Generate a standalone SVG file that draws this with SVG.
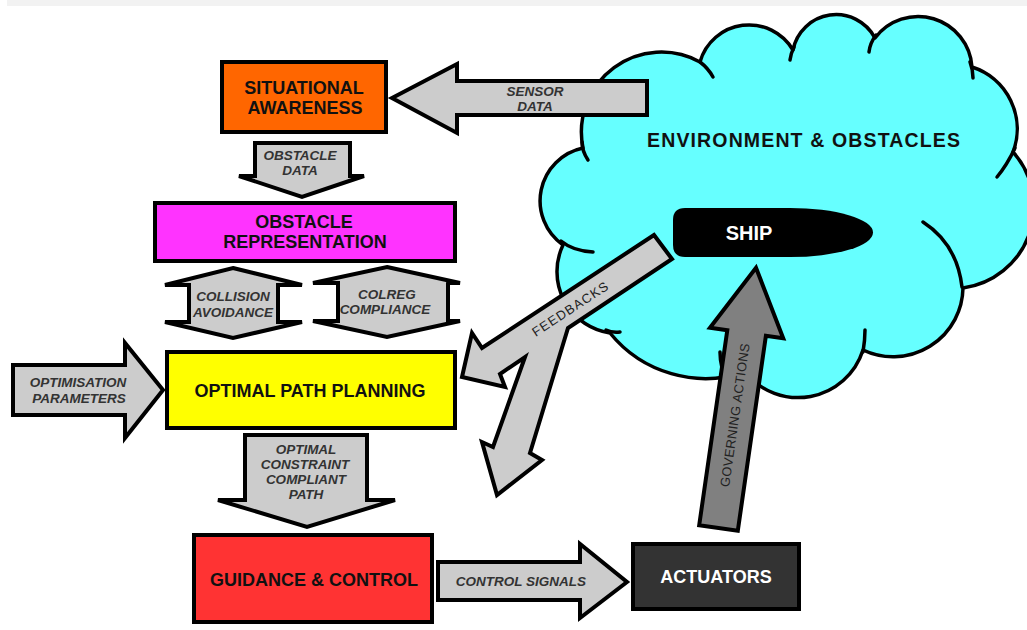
<svg xmlns="http://www.w3.org/2000/svg" width="1027" height="630" viewBox="0 0 1027 630">
<style>
.box{stroke:#000;stroke-width:4;stroke-linejoin:miter}
.arr{fill:#cccccc;stroke:#000;stroke-width:4;stroke-linejoin:miter}
.nt{font-family:"Liberation Sans",Arial,sans-serif;font-weight:bold;font-size:18px;fill:#111;text-anchor:middle}
.at{font-family:"Liberation Sans",Arial,sans-serif;font-weight:bold;font-style:italic;font-size:13.5px;fill:#333;text-anchor:middle}
.rt{font-family:"Liberation Sans",Arial,sans-serif;font-size:13px;fill:#222;text-anchor:middle}
.stub{fill:none;stroke:#000;stroke-width:3.5;stroke-linecap:round}
</style>
<rect x="0" y="0" width="1027" height="630" fill="#ffffff"/>
<rect x="7" y="0" width="1020" height="6" fill="#f2f2f2"/>

<g id="environment">
<path d="M 563 245 A 54 54 0 0 1 583 148 A 80 80 0 0 1 700 62 A 51 51 0 0 1 793 50 A 44 44 0 0 1 875 38 A 54 54 0 0 1 972 67 A 65 65 0 0 1 1013 152 A 82 82 0 0 1 963 288 A 70 70 0 0 1 863 350 A 68 68 0 0 1 745 372 A 123 123 0 0 1 610 333 A 62 62 0 0 1 563 245 Z" fill="#66ffff" stroke="#000" stroke-width="3.5" stroke-linejoin="round"/>
<path class="stub" d="M 561 241 Q 573 251 593 252"/>
<path class="stub" d="M 582 142 Q 582 151 588 160"/>
<path class="stub" d="M 700 62 Q 708 68 713 77"/>
<path class="stub" d="M 794 47 Q 791 53 790 60"/>
<path class="stub" d="M 876 35 Q 870 43 869 52"/>
<path class="stub" d="M 970 62 Q 973 70 973 78"/>
<path class="stub" d="M 1015 148 Q 1007 165 997 177"/>
<path class="stub" d="M 962 287 Q 957 244 923 222"/>
<path class="stub" d="M 863 352 Q 865 340 865 330"/>
<path class="stub" d="M 722 368 Q 720 360 720 352"/>
<path class="stub" d="M 606 330 Q 612 333 620 332"/>
<text class="nt" x="803.5" y="147" font-size="19.5" textLength="313" lengthAdjust="spacing" style="font-size:19.5px">ENVIRONMENT &amp; OBSTACLES</text>
</g>

<g id="ship">
<path d="M 685 208 L 790 208 A 83 24.5 0 0 1 790 257 L 685 257 Q 673 257 673 245 L 673 220 Q 673 208 685 208 Z" fill="#000"/>
<text class="nt" x="749" y="240" style="font-size:20px;fill:#fff">SHIP</text>
</g>

<g id="situational-awareness">
<rect class="box" x="222" y="62" width="164" height="70" fill="#ff6600"/>
<text class="nt" x="304" y="94">SITUATIONAL</text>
<text class="nt" x="305" y="114">AWARENESS</text>
</g>

<g id="obstacle-representation">
<rect class="box" x="155" y="203" width="300" height="58" fill="#ff33ff"/>
<text class="nt" x="304" y="228">OBSTACLE</text>
<text class="nt" x="305" y="248">REPRESENTATION</text>
</g>

<g id="optimal-path-planning">
<rect class="box" x="167" y="352" width="288" height="76" fill="#ffff00"/>
<text class="nt" x="310" y="397">OPTIMAL PATH PLANNING</text>
</g>

<g id="guidance-control">
<rect class="box" x="194" y="535" width="238" height="87" fill="#ff3333"/>
<text class="nt" x="314" y="586">GUIDANCE &amp; CONTROL</text>
</g>

<g id="actuators">
<rect class="box" x="633" y="544" width="166" height="65" fill="#333333"/>
<text class="nt" x="716" y="583" style="fill:#fff">ACTUATORS</text>
</g>

<g id="connectors">
<g id="sensor-data">
<polygon class="arr" points="392,98 457,64 457,81 647,81 647,115 457,115 457,133"/>
<text class="at" x="535" y="96">SENSOR</text>
<text class="at" x="535" y="111">DATA</text>
</g>
<g id="obstacle-data">
<polygon class="arr" points="255,143 350,143 350,176 364,176 302,197 239,176 255,176"/>
<text class="at" x="300" y="160">OBSTACLE</text>
<text class="at" x="300" y="175">DATA</text>
</g>
<g id="collision-avoidance">
<polygon class="arr" points="233,268 302,285 278,285 278,322 302,322 233,338 165,322 189,322 189,285 165,285"/>
<text class="at" x="233" y="301">COLLISION</text>
<text class="at" x="233" y="317">AVOIDANCE</text>
</g>
<g id="colreg-compliance">
<polygon class="arr" points="387,267 460,283 448,283 448,321 460,321 387,337 313,321 338,321 338,283 313,283"/>
<text class="at" x="387" y="299">COLREG</text>
<text class="at" x="385" y="314">COMPLIANCE</text>
</g>
<g id="optimisation-parameters">
<polygon class="arr" points="13,365 125,365 125,343 163,390 125,438 125,415 13,415"/>
<text class="at" x="78" y="387">OPTIMISATION</text>
<text class="at" x="79" y="403">PARAMETERS</text>
</g>
<g id="optimal-path">
<polygon class="arr" points="245,435 367,435 367,500 395,500 307,527 218,500 245,500"/>
<text class="at" x="306" y="454">OPTIMAL</text>
<text class="at" x="305" y="469">CONSTRAINT</text>
<text class="at" x="306" y="484">COMPLIANT</text>
<text class="at" x="306" y="499">PATH</text>
</g>
<g id="control-signals">
<polygon class="arr" points="438,562 580,562 580,544 627,582 580,618 580,600 438,600"/>
<text class="at" x="521" y="586">CONTROL SIGNALS</text>
</g>
<g id="feedbacks">
<polygon class="arr" points="654,235 672,259 568,328 530,453 542,460 497,495 482,442 493,447 525,357 500,374 505,387 462,377 472,333 482,348"/>
<text class="rt" transform="translate(570,309) rotate(-33.3)" x="0" y="4.6" textLength="88" lengthAdjust="spacing">FEEDBACKS</text>
</g>
<g id="governing-actions" transform="translate(718.5,528) rotate(8.2)">
<polygon points="-19.5,0 19.5,0 19.5,-197 37,-197 0,-263 -37,-197 -19.5,-197" fill="#808080" stroke="#000" stroke-width="4"/>
<text class="rt" transform="rotate(-90)" x="114" y="4.6" textLength="145" lengthAdjust="spacing">GOVERNING ACTIONS</text>
</g>
</g>
</svg>
